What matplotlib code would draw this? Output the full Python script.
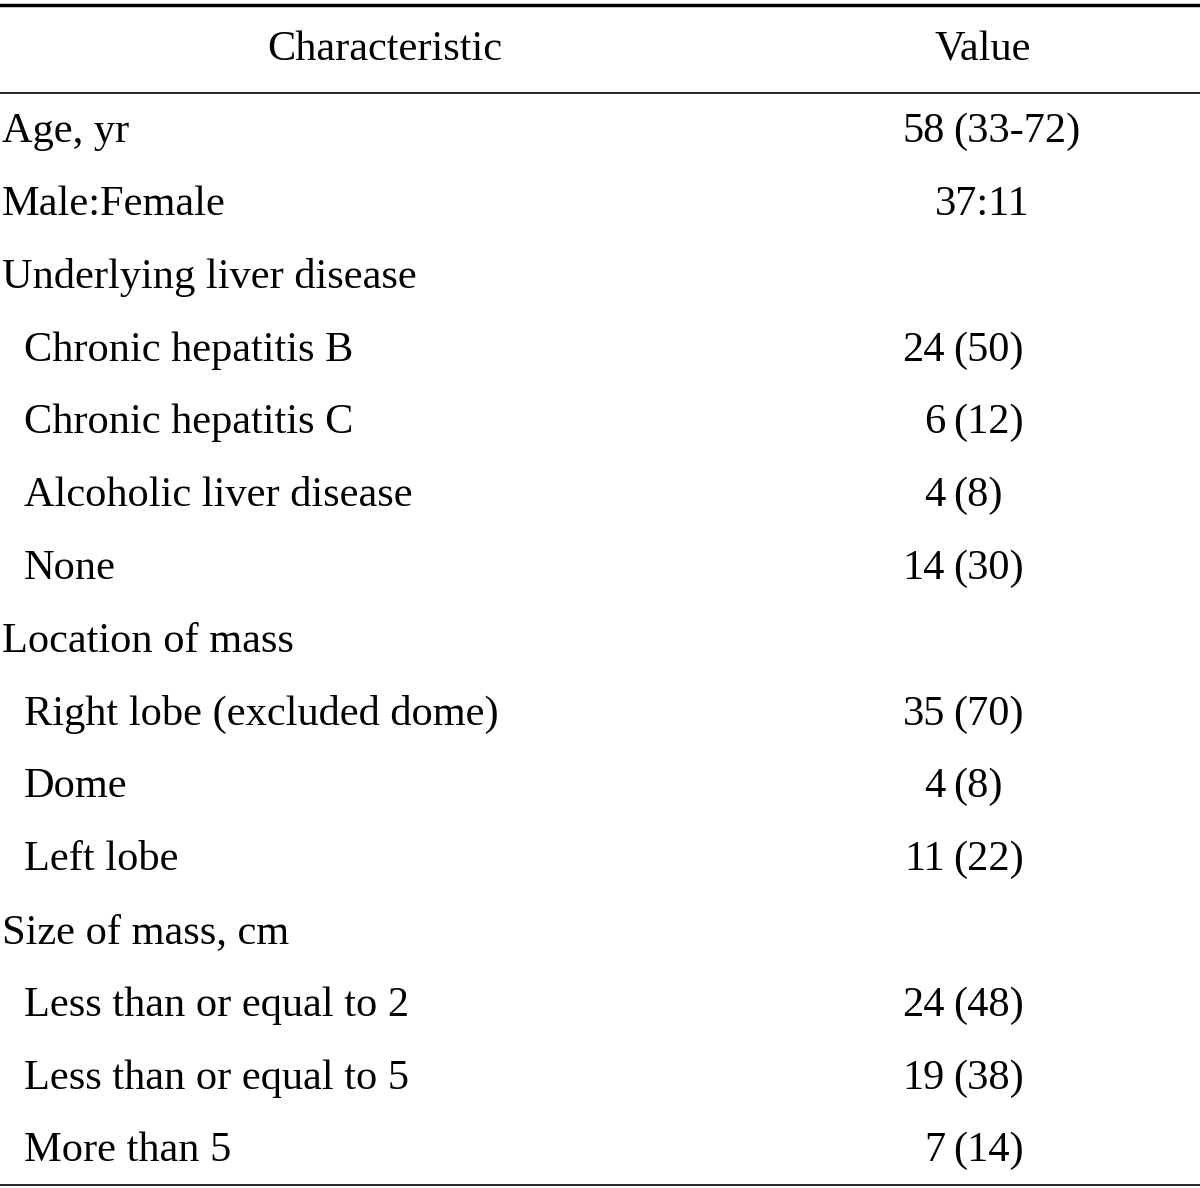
import matplotlib.pyplot as plt

labels = ["Age, yr", "Male:Female", "Underlying liver disease",
          "Chronic hepatitis B", "Chronic hepatitis C", "Alcoholic liver disease", "None",
          "Location of mass",
          "Right lobe (excluded dome)", "Dome", "Left lobe",
          "Size of mass, cm",
          "Less than or equal to 2", "Less than or equal to 5", "More than 5"]
indent = [0, 0, 0, 1, 1, 1, 1, 0, 1, 1, 1, 0, 1, 1, 1]
counts = ["58", "37:11", "", "24", "6", "4", "14", "", "35", "4", "11", "", "24", "19", "7"]
extra = ["(33-72)", "", "", "(50)", "(12)", "(8)", "(30)", "", "(70)", "(8)", "(22)", "", "(48)", "(38)", "(14)"]

plt.rcParams['font.family'] = ['Liberation Serif', 'DejaVu Serif']
fig = plt.figure(figsize=(12, 11.88), dpi=100)
ax = fig.add_axes([0, 0, 1, 1])
ax.set_xlim(0, 1200)
ax.set_ylim(1188, 0)
ax.axis('off')

fs = 30.5
ax.plot([0, 1200], [5, 5], color='black', lw=2.5)
ax.plot([0, 1200], [93, 93], color='black', lw=1.2)
ax.plot([0, 1200], [1185, 1185], color='black', lw=1.2)

ax.text(385, 50, "Characteristic", fontsize=fs, ha='center', va='center')
ax.text(983, 50, "Value", fontsize=fs, ha='center', va='center')

for i, lab in enumerate(labels):
    y = 132 + i * 72.8
    ax.text(2 + 22 * indent[i], y, lab, fontsize=fs, ha='left', va='center')
    if extra[i]:
        ax.text(945, y, counts[i], fontsize=fs, ha='right', va='center')
        ax.text(953, y, extra[i], fontsize=fs, ha='left', va='center')
    elif counts[i]:
        ax.text(982, y, counts[i], fontsize=fs, ha='center', va='center')

fig.savefig("out.png", dpi=100)
